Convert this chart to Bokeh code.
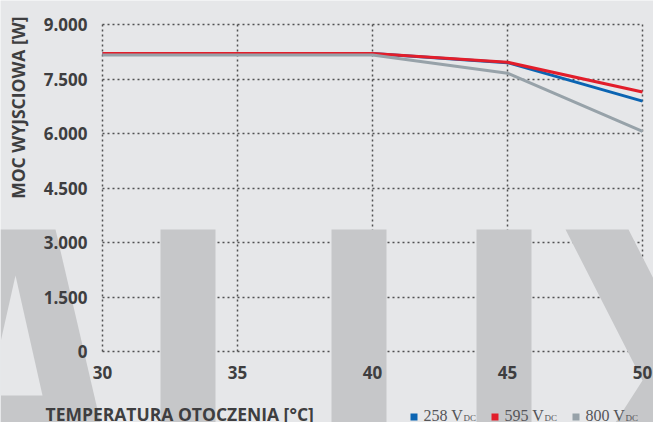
from math import pi
from bokeh.plotting import figure
from bokeh.models import Range1d, FixedTicker, Label, PolyAnnotation, BoxAnnotation
from bokeh.embed import file_html
from bokeh.resources import INLINE

# ---- data ----
temps = [30, 35, 40, 45, 50]
p_258 = [8200, 8200, 8200, 7950, 6890]
p_595 = [8200, 8200, 8200, 7960, 7140]
p_800 = [8160, 8160, 8160, 7660, 6060]

x_ticks = [30, 35, 40, 45, 50]
y_ticks = [0, 1500, 3000, 4500, 6000, 7500, 9000]
y_tick_labels = ["0", "1.500", "3.000", "4.500", "6.000", "7.500", "9.000"]

series_names = ["258", "595", "800"]
series_colors = ["#0b64b2", "#e21e2b", "#97a2a9"]

x_title = "TEMPERATURA OTOCZENIA [°C]"
y_title = "MOC WYJSCIOWA [W]"

# ---- style ----
BG = "#e6e7e9"
WM = "#c6c7c9"
TXT = "#3e3e40"
FONT = "Open Sans"

W, H = 653, 422
# pixel placement of the data area inside the canvas
PX_L, PX_R = 102, 642      # x = 30 .. 50
PY_T, PY_B = 24, 351       # y = 9000 .. 0
XMIN, XMAX = x_ticks[0], x_ticks[-1]
YMIN, YMAX = y_ticks[0], y_ticks[-1]
kx = (XMAX - XMIN) / (PX_R - PX_L)
ky = (YMAX - YMIN) / (PY_B - PY_T)
x_range = Range1d(XMIN - PX_L * kx, XMAX + (W - PX_R) * kx)
y_range = Range1d(YMIN - (H - PY_B) * ky, YMAX + PY_T * ky)

p = figure(width=W, height=H, output_backend="svg", toolbar_location=None,
           x_range=x_range, y_range=y_range,
           min_border=0, min_border_left=0, min_border_right=0,
           min_border_top=0, min_border_bottom=0)
p.background_fill_color = BG
p.border_fill_color = BG
p.outline_line_color = None

# canvas coords -> screen units (from frame bottom-left, y up)
def sx(X):
    return X
def sy(Y):
    return H - Y

# ---- watermark (decoration) ----
wm_shapes = [
    [(0, 229), (55, 229), (100, 422), (0, 422)],
    [(160, 229), (215, 229), (215, 422), (160, 422)],
    [(331, 229), (386, 229), (386, 422), (331, 422)],
    [(476, 229), (531, 229), (531, 422), (476, 422)],
    [(565, 229), (628, 229), (720, 410), (720, 422), (615, 422), (642, 380)],
]
for shp in wm_shapes:
    p.add_layout(PolyAnnotation(xs=[sx(a) for a, b in shp], ys=[sy(b) for a, b in shp],
                                xs_units="screen", ys_units="screen",
                                fill_color=WM, fill_alpha=1, line_color=None, level="underlay"))
inner = [(15, 275), (42, 395), (-12, 395)]
p.add_layout(PolyAnnotation(xs=[sx(a) for a, b in inner], ys=[sy(b) for a, b in inner],
                            xs_units="screen", ys_units="screen",
                            fill_color=BG, fill_alpha=1, line_color=None, level="underlay"))

# ---- grid (dotted, limited to data area) ----
p.xgrid.ticker = FixedTicker(ticks=x_ticks)
p.ygrid.ticker = FixedTicker(ticks=y_ticks)
for g in (p.xgrid, p.ygrid):
    g.grid_line_color = "#505052"
    g.grid_line_width = 1.5
    g.grid_line_dash = "2 3"
p.xgrid.bounds = (XMIN, XMAX)
p.ygrid.bounds = (YMIN, YMAX)
try:
    p.xgrid.cross_bounds = (YMIN, YMAX)
    p.ygrid.cross_bounds = (XMIN, XMAX)
except Exception:
    p.xgrid.visible = False
    p.ygrid.visible = False
    p.segment(x0=x_ticks, y0=[YMIN] * len(x_ticks), x1=x_ticks, y1=[YMAX] * len(x_ticks),
              line_color="#505052", line_width=1.5, line_dash="2 3")
    p.segment(x0=[XMIN] * len(y_ticks), y0=y_ticks, x1=[XMAX] * len(y_ticks), y1=y_ticks,
              line_color="#505052", line_width=1.5, line_dash="2 3")

# ---- axes (fixed inside the canvas) ----
p.xaxis.fixed_location = YMIN
p.yaxis.fixed_location = XMIN
p.xaxis.ticker = FixedTicker(ticks=x_ticks)
p.yaxis.ticker = FixedTicker(ticks=y_ticks)
p.yaxis.major_label_overrides = {t: l for t, l in zip(y_ticks, y_tick_labels)}
for ax in (p.xaxis, p.yaxis):
    ax.axis_line_color = None
    ax.major_tick_line_color = None
    ax.minor_tick_line_color = None
    ax.major_tick_out = 0
    ax.major_tick_in = 0
    ax.minor_tick_out = 0
    ax.minor_tick_in = 0
    ax.major_label_text_font = FONT
    ax.major_label_text_font_style = "bold"
    ax.major_label_text_font_size = "17px"
    ax.major_label_text_color = TXT
p.yaxis.major_label_standoff = 15
p.xaxis.major_label_standoff = 14

# ---- lines ----
for vals, col in zip([p_258, p_595, p_800], series_colors):
    p.line(temps, vals, line_color=col, line_width=3)

# ---- titles ----
p.add_layout(Label(x=sx(45), y=sy(413.5), x_units="screen", y_units="screen",
                   text=x_title, text_font=FONT, text_font_style="bold",
                   text_font_size="17.5px", text_color=TXT,
                   text_align="left", text_baseline="alphabetic"))
p.add_layout(Label(x=sx(17), y=sy(16), x_units="screen", y_units="screen",
                   text=y_title, text_font=FONT, text_font_style="bold",
                   text_font_size="17.5px", text_color=TXT, angle=pi / 2,
                   text_align="right", text_baseline="alphabetic"))

# ---- legend ----
sq_x = [410, 491, 572]
for name, col, X in zip(series_names, series_colors, sq_x):
    p.add_layout(BoxAnnotation(left=sx(X), right=sx(X + 7), top=sy(413), bottom=sy(420),
                               left_units="screen", right_units="screen",
                               top_units="screen", bottom_units="screen",
                               fill_color=col, fill_alpha=1, line_color=None))
    p.add_layout(Label(x=sx(X + 13), y=sy(415), x_units="screen", y_units="screen",
                       text=name + " V", text_font="Liberation Serif",
                       text_font_size="16px", text_color="#555558",
                       text_align="left", text_baseline="alphabetic"))
    p.add_layout(Label(x=sx(X + 53), y=sy(417.5), x_units="screen", y_units="screen",
                       text="DC", text_font="Liberation Serif",
                       text_font_size="9px", text_color="#555558",
                       text_align="left", text_baseline="alphabetic"))

open("out.html", "w").write(file_html(p, INLINE))
